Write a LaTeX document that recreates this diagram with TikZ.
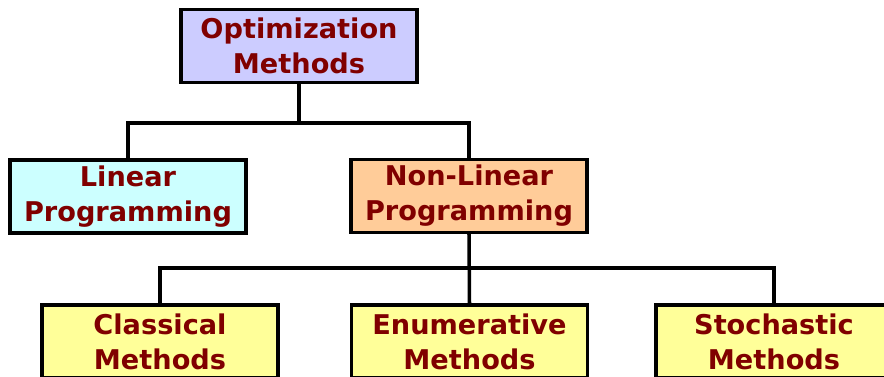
\documentclass[tikz,border=0pt]{standalone}
\usepackage{fontspec}
\setmainfont{DejaVu Sans}
\usepackage{tikz}
\usetikzlibrary{positioning}

\definecolor{textred}{RGB}{128,0,0}
\definecolor{optfill}{RGB}{204,204,255}
\definecolor{linfill}{RGB}{204,255,255}
\definecolor{nlpfill}{RGB}{255,204,153}
\definecolor{subfill}{RGB}{255,255,153}

\begin{document}
\begin{tikzpicture}
		[x=0.03cm, y=-0.03cm,
		box/.style={draw=black, line width=2.6pt, text=textred, align=center,
			font=\fontsize{23.2}{29.8}\selectfont\bfseries,
			minimum width=7.08cm, minimum height=2.19cm, inner sep=0pt},
		conn/.style={line width=3pt}]
		\clip (0,0) rectangle (884,377);
		\node[box, fill=optfill] (opt) at (299,46) {Optimization\\Methods};
		\node[box, fill=linfill] (lin) at (128,196.5) {Linear\\Programming};
		\node[box, fill=nlpfill] (nlp) at (469,196) {Non-Linear\\Programming};
		\node[box, fill=subfill] (cla) at (160,341.5) {Classical\\Methods};
		\node[box, fill=subfill] (enu) at (469.5,341.5) {Enumerative\\Methods};
		\node[box, fill=subfill] (sto) at (774,341.5) {Stochastic\\Methods};
		\coordinate (bar1) at (0,123);
		\coordinate (bar2) at (0,268);

		\draw[conn] (opt.south) -- (opt.south |- bar1) -| (lin.north);
		\draw[conn] (opt.south |- bar1) -| (nlp.north);
		\draw[conn] (nlp.south) -- (enu.north);
		\draw[conn] (cla.north) |- (sto.north |- bar2) -- (sto.north);
	\end{tikzpicture}
\end{document}
